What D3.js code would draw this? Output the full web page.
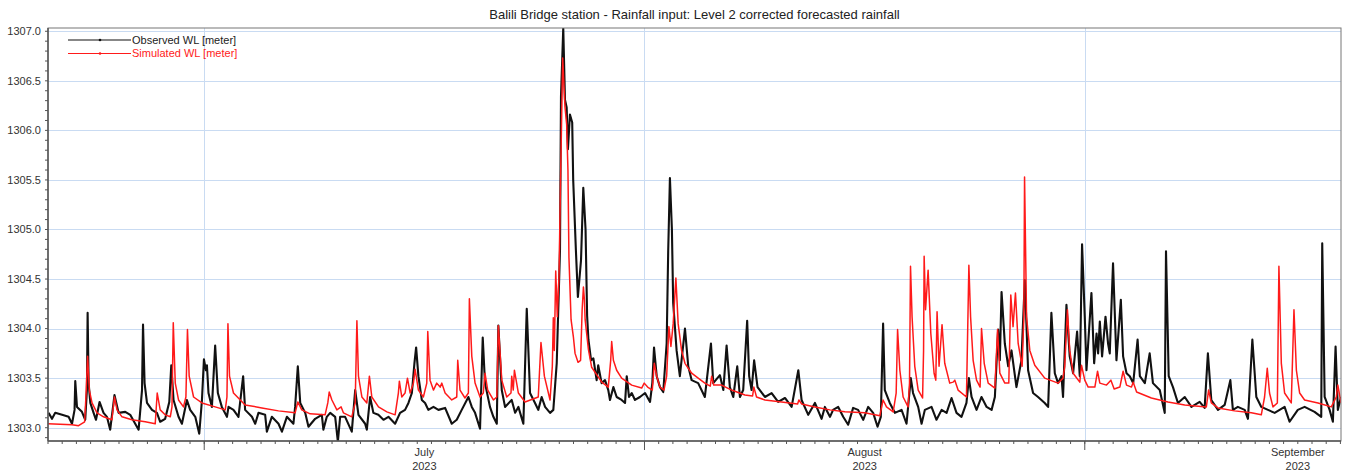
<!DOCTYPE html>
<html>
<head>
<meta charset="utf-8">
<script src="https://cdn.jsdelivr.net/npm/d3@7"></script>
<style>
  body { margin: 0; background: #fff; }
  svg { display: block; font-family: "Liberation Sans", Arial, sans-serif; }
</style>
</head>
<body>
<svg id="chart" width="1346" height="475"></svg>
<script>
// ---- chart text ----
const chartTitle = "Balili Bridge station - Rainfall input: Level 2 corrected forecasted rainfall";
const seriesNames = ["Observed WL [meter]", "Simulated WL [meter]"];

// ---- time frame (series times are days after periodStart) ----
const periodStart = "2023-06-20T00:00:00Z";
const periodEnd = "2023-09-19T01:00:00Z";
const monthStarts = ["2023-07-01", "2023-08-01", "2023-09-01"];
const monthLabels = ["July", "August", "September"];
const yearLabels = ["2023", "2023", "2023"];

// ---- water level axis ----
const levelRange = [1302.866, 1307.033];
const levelTicks = [1303.0, 1303.5, 1304.0, 1304.5, 1305.0, 1305.5, 1306.0, 1306.5, 1307.0];

// ---- observed water level [day, m] ----
const observed = [
  [0.04,1303.15],[0.28,1303.09],[0.51,1303.15],[0.99,1303.13],[1.45,1303.11],[1.69,1303.04],[1.87,1303.18],
  [1.92,1303.47],[2.04,1303.21],[2.39,1303.16],[2.62,1303.08],[2.74,1303.38],[2.79,1304.16],[2.86,1303.45],
  [2.98,1303.25],[3.21,1303.15],[3.38,1303.08],[3.63,1303.26],[3.91,1303.15],[4.15,1303.11],[4.38,1302.98],
  [4.68,1303.33],[4.97,1303.15],[5.44,1303.16],[5.79,1303.13],[6.14,1303.04],[6.38,1302.98],[6.62,1303.38],
  [6.69,1304.04],[6.80,1303.45],[6.97,1303.25],[7.32,1303.18],[7.67,1303.15],[7.90,1303.06],[8.25,1303.09],
  [8.54,1303.26],[8.68,1303.63],[8.84,1303.28],[9.19,1303.11],[9.43,1303.04],[9.78,1303.28],[10.01,1303.18],
  [10.37,1303.11],[10.65,1302.94],[10.84,1303.28],[10.98,1303.69],[11.12,1303.58],[11.19,1303.63],[11.30,1303.35],
  [11.54,1303.21],[11.77,1303.83],[11.96,1303.35],[12.24,1303.21],[12.60,1303.11],[12.71,1303.21],[13.06,1303.18],
  [13.41,1303.11],[13.74,1303.52],[13.88,1303.18],[14.36,1303.11],[14.59,1303.04],[14.82,1303.15],[15.29,1303.13],
  [15.41,1302.96],[15.76,1303.11],[16.23,1303.04],[16.47,1302.96],[16.82,1303.11],[17.28,1303.04],[17.40,1303.21],
  [17.59,1303.62],[17.76,1303.25],[18.11,1303.15],[18.34,1303.01],[18.81,1303.09],[19.28,1303.13],[19.39,1302.98],
  [19.63,1303.11],[19.87,1303.15],[20.22,1303.11],[20.41,1302.86],[20.57,1303.11],[20.92,1303.11],[21.39,1302.96],
  [21.63,1303.38],[21.86,1303.13],[22.33,1303.04],[22.45,1302.98],[22.68,1303.31],[22.91,1303.15],[23.26,1303.13],
  [23.62,1303.08],[23.97,1303.11],[24.44,1303.04],[24.79,1303.15],[25.14,1303.18],[25.38,1303.25],[25.62,1303.35],
  [25.80,1303.65],[25.92,1303.81],[26.08,1303.52],[26.32,1303.28],[26.55,1303.25],[26.78,1303.18],[27.14,1303.21],
  [27.49,1303.18],[27.96,1303.20],[28.43,1303.04],[28.78,1303.08],[29.13,1303.18],[29.60,1303.31],[29.84,1303.21],
  [30.07,1303.15],[30.42,1302.99],[30.61,1303.91],[30.77,1303.45],[31.12,1303.21],[31.36,1303.11],[31.60,1303.04],
  [31.71,1304.03],[31.95,1303.38],[32.18,1303.21],[32.65,1303.28],[32.89,1303.15],[33.12,1303.21],[33.47,1303.04],
  [33.71,1304.20],[33.94,1303.35],[34.29,1303.25],[34.52,1303.18],[34.76,1303.31],[35.00,1303.21],[35.35,1303.15],
  [35.58,1303.18],[35.82,1303.65],[36.05,1304.79],[36.12,1306.34],[36.28,1307.03],[36.40,1306.31],[36.52,1306.23],
  [36.61,1305.81],[36.75,1306.16],[36.91,1306.08],[36.98,1305.50],[37.17,1304.79],[37.31,1304.32],[37.53,1304.69],
  [37.69,1305.42],[37.85,1305.00],[37.96,1304.13],[38.05,1303.89],[38.24,1303.68],[38.40,1303.70],[38.63,1303.48],
  [38.74,1303.63],[38.98,1303.45],[39.22,1303.48],[39.45,1303.38],[39.57,1303.28],[39.81,1303.41],[40.04,1303.31],
  [40.39,1303.28],[40.63,1303.25],[40.75,1303.52],[40.91,1303.31],[41.10,1303.35],[41.33,1303.28],[41.68,1303.31],
  [42.04,1303.35],[42.39,1303.26],[42.55,1303.45],[42.67,1303.81],[42.86,1303.52],[43.09,1303.41],[43.32,1303.36],
  [43.56,1303.85],[43.67,1304.79],[43.79,1305.52],[43.93,1305.00],[44.02,1304.26],[44.26,1303.78],[44.49,1303.52],
  [44.85,1304.00],[45.08,1303.62],[45.32,1303.48],[45.78,1303.45],[46.25,1303.31],[46.68,1303.85],[46.84,1303.45],
  [47.31,1303.53],[47.55,1303.38],[47.78,1303.83],[48.01,1303.41],[48.25,1303.31],[48.53,1303.62],[48.72,1303.31],
  [48.95,1303.38],[49.23,1304.08],[49.37,1303.52],[49.54,1303.38],[49.72,1303.68],[49.96,1303.41],[50.48,1303.31],
  [50.95,1303.35],[51.41,1303.26],[51.89,1303.30],[52.36,1303.21],[52.83,1303.58],[53.06,1303.28],[53.53,1303.13],
  [54.00,1303.25],[54.47,1303.09],[54.70,1303.21],[55.06,1303.11],[55.28,1303.18],[55.64,1303.21],[55.99,1303.11],
  [56.34,1303.03],[56.69,1303.20],[57.04,1303.18],[57.40,1303.08],[57.75,1303.21],[58.10,1303.15],[58.41,1303.01],
  [58.64,1303.11],[58.80,1304.05],[58.92,1303.38],[59.27,1303.25],[59.63,1303.15],[60.10,1303.18],[60.45,1303.04],
  [60.75,1303.50],[60.91,1303.35],[61.27,1303.21],[61.51,1303.04],[61.74,1303.18],[62.21,1303.21],[62.56,1303.08],
  [62.92,1303.18],[63.27,1303.15],[63.62,1303.30],[63.97,1303.15],[64.32,1303.11],[64.67,1303.25],[64.84,1303.50],
  [65.03,1303.31],[65.38,1303.18],[65.73,1303.31],[66.09,1303.21],[66.44,1303.18],[66.67,1303.31],[66.90,1303.99],
  [67.02,1303.68],[67.14,1304.37],[67.37,1303.85],[67.61,1303.62],[67.84,1303.78],[68.19,1303.41],[68.54,1303.68],
  [68.78,1304.49],[69.01,1303.58],[69.36,1303.35],[69.71,1303.31],[70.18,1303.25],[70.42,1303.21],[70.65,1304.16],
  [70.89,1303.55],[71.12,1303.45],[71.36,1303.52],[71.47,1303.31],[71.71,1304.24],[71.94,1303.72],[72.18,1303.55],
  [72.46,1303.97],[72.65,1303.52],[72.81,1304.85],[73.00,1304.12],[73.12,1303.58],[73.47,1304.36],[73.66,1303.65],
  [73.83,1303.95],[73.94,1303.75],[74.06,1304.07],[74.22,1303.72],[74.46,1304.12],[74.64,1303.85],[74.76,1303.75],
  [74.99,1304.66],[75.23,1303.68],[75.54,1304.29],[75.70,1303.72],[75.94,1303.55],[76.17,1303.52],[76.41,1303.45],
  [76.72,1303.89],[76.88,1303.52],[77.23,1303.45],[77.57,1303.75],[77.80,1303.45],[78.28,1303.38],[78.63,1303.15],
  [78.72,1304.78],[78.91,1303.52],[79.21,1303.41],[79.56,1303.25],[80.04,1303.31],[80.51,1303.21],[81.09,1303.26],
  [81.44,1303.20],[81.67,1303.75],[81.91,1303.28],[82.38,1303.18],[82.85,1303.23],[83.25,1303.48],[83.43,1303.18],
  [83.78,1303.21],[84.26,1303.18],[84.49,1303.09],[84.80,1303.89],[85.08,1303.31],[85.43,1303.21],[85.90,1303.18],
  [86.37,1303.15],[87.07,1303.21],[87.42,1303.06],[88.00,1303.18],[88.48,1303.21],[89.18,1303.16],[89.65,1303.11],
  [89.72,1304.86],[89.89,1303.31],[90.24,1303.18],[90.47,1303.06],[90.66,1303.82],[90.82,1303.18],[91.04,1303.31]
];

// ---- simulated water level [day, m] ----
const simulated = [
  [0.00,1303.04],[1.69,1303.03],[2.15,1303.02],[2.58,1303.06],[2.67,1303.31],[2.79,1303.72],[2.91,1303.38],
  [3.10,1303.25],[3.45,1303.15],[3.91,1303.11],[4.50,1303.08],[4.68,1303.31],[4.86,1303.18],[5.21,1303.11],
  [5.91,1303.08],[6.85,1303.06],[7.55,1303.04],[7.69,1303.35],[7.90,1303.18],[8.25,1303.13],[8.61,1303.11],
  [8.73,1303.21],[8.82,1304.06],[8.96,1303.45],[9.19,1303.28],[9.54,1303.21],[9.71,1303.31],[9.82,1303.99],
  [9.94,1303.52],[10.25,1303.31],[10.84,1303.25],[11.77,1303.21],[12.48,1303.18],[12.60,1303.31],[12.67,1304.05],
  [12.78,1303.52],[13.06,1303.35],[13.88,1303.23],[15.06,1303.20],[16.23,1303.17],[17.40,1303.15],[17.59,1303.26],
  [17.87,1303.18],[18.46,1303.14],[19.51,1303.13],[19.70,1303.25],[19.80,1303.36],[19.99,1303.28],[20.34,1303.18],
  [20.64,1303.21],[20.80,1303.15],[21.39,1303.11],[21.63,1303.25],[21.75,1304.08],[21.86,1303.52],[22.10,1303.31],
  [22.45,1303.25],[22.63,1303.52],[22.80,1303.31],[23.27,1303.21],[23.86,1303.16],[24.44,1303.13],[24.67,1303.35],
  [24.74,1303.47],[24.91,1303.31],[25.14,1303.35],[25.31,1303.50],[25.50,1303.35],[25.73,1303.45],[25.85,1303.59],
  [26.08,1303.38],[26.43,1303.31],[26.67,1303.45],[26.74,1303.97],[26.90,1303.48],[27.14,1303.38],[27.37,1303.45],
  [27.61,1303.41],[27.73,1303.45],[27.96,1303.35],[28.43,1303.28],[28.78,1303.31],[28.85,1303.68],[29.01,1303.38],
  [29.36,1303.30],[29.60,1303.35],[29.67,1304.30],[29.84,1303.72],[30.07,1303.45],[30.42,1303.31],[30.65,1303.35],
  [30.77,1303.55],[30.96,1303.38],[31.36,1303.28],[31.60,1303.31],[31.71,1304.03],[31.95,1303.48],[32.30,1303.31],
  [32.60,1303.35],[32.65,1303.52],[32.76,1303.38],[32.84,1303.58],[33.12,1303.35],[33.59,1303.26],[34.52,1303.31],
  [34.71,1303.86],[34.95,1303.52],[35.35,1303.28],[35.51,1303.62],[35.58,1304.11],[35.65,1303.78],[35.75,1304.58],
  [35.86,1304.12],[35.98,1304.53],[36.09,1305.50],[36.24,1306.73],[36.40,1306.24],[36.52,1306.06],[36.61,1305.60],
  [36.68,1304.72],[36.83,1304.09],[36.99,1303.92],[37.11,1303.75],[37.32,1303.66],[37.50,1303.68],[37.61,1304.19],
  [37.70,1304.42],[37.77,1304.29],[37.82,1304.09],[38.05,1303.79],[38.28,1303.61],[38.75,1303.51],[38.99,1303.46],
  [39.45,1303.41],[39.62,1303.68],[39.69,1303.87],[39.81,1303.68],[40.04,1303.58],[40.39,1303.50],[41.10,1303.43],
  [41.80,1303.40],[41.98,1303.45],[42.22,1303.41],[42.55,1303.38],[42.69,1303.65],[42.86,1303.52],[43.09,1303.41],
  [43.37,1303.38],[43.56,1303.52],[43.72,1304.02],[43.86,1303.82],[44.02,1304.05],[44.21,1304.51],[44.37,1304.05],
  [44.61,1303.78],[44.85,1303.65],[45.32,1303.55],[45.78,1303.50],[46.25,1303.45],[46.63,1303.42],[46.73,1303.52],
  [46.87,1303.43],[47.43,1303.43],[48.13,1303.38],[49.07,1303.33],[49.61,1303.32],[49.70,1303.41],[49.89,1303.31],
  [50.48,1303.28],[51.65,1303.26],[52.78,1303.24],[52.87,1303.28],[53.06,1303.24],[54.00,1303.21],[55.05,1303.18],
  [56.11,1303.16],[57.51,1303.15],[58.57,1303.12],[58.80,1303.28],[59.04,1303.21],[59.51,1303.16],[59.72,1303.35],
  [59.82,1303.99],[59.98,1303.58],[60.21,1303.31],[60.56,1303.21],[60.66,1303.45],[60.73,1304.63],[60.84,1304.12],
  [61.03,1303.62],[61.27,1303.38],[61.58,1303.30],[61.65,1303.78],[61.69,1304.73],[61.79,1304.19],[61.97,1304.59],
  [62.16,1303.95],[62.39,1303.55],[62.51,1303.48],[62.60,1304.17],[62.74,1303.62],[62.95,1304.04],[63.14,1303.65],
  [63.49,1303.45],[63.73,1303.46],[63.85,1303.48],[64.08,1303.38],[64.67,1303.31],[64.84,1304.64],[64.96,1304.12],
  [65.14,1303.68],[65.38,1303.48],[65.63,1303.41],[65.73,1304.00],[65.92,1303.65],[66.20,1303.45],[66.67,1303.40],
  [66.86,1303.99],[67.02,1303.55],[67.37,1303.45],[67.65,1303.45],[67.79,1304.34],[67.95,1304.02],[68.12,1304.36],
  [68.31,1303.85],[68.59,1303.62],[68.71,1304.12],[68.76,1305.53],[68.90,1304.12],[69.13,1303.78],[69.48,1303.63],
  [70.18,1303.50],[71.12,1303.45],[71.47,1303.50],[71.59,1303.62],[71.78,1304.19],[71.94,1303.78],[72.18,1303.55],
  [72.65,1303.46],[72.77,1303.63],[73.00,1303.48],[73.24,1303.41],[73.71,1303.41],[73.90,1303.57],[74.06,1303.45],
  [74.53,1303.43],[74.84,1303.48],[75.07,1303.39],[75.47,1303.41],[75.70,1303.57],[75.94,1303.43],[76.29,1303.41],
  [76.41,1303.46],[76.65,1303.36],[77.69,1303.30],[78.86,1303.26],[80.04,1303.23],[81.56,1303.21],[81.72,1303.38],
  [81.91,1303.25],[82.38,1303.20],[83.55,1303.17],[84.73,1303.15],[85.43,1303.13],[85.66,1303.31],[85.85,1303.60],
  [86.01,1303.35],[86.25,1303.21],[86.56,1303.25],[86.67,1304.63],[86.84,1303.65],[87.07,1303.35],[87.54,1303.25],
  [87.73,1304.19],[87.90,1303.58],[88.13,1303.35],[88.48,1303.28],[89.42,1303.25],[90.36,1303.21],[90.71,1303.31],
  [90.82,1303.43],[91.04,1303.25]
];

// ---- drawing ----
const svg = d3.select("#chart");
const W = 1346, H = 475;
const plot = { left: 48, right: 1341, top: 28, bottom: 441 };

const t0 = new Date(periodStart);
const toDate = d => new Date(t0.getTime() + d * 864e5);

const x = d3.scaleUtc()
  .domain([t0, new Date(periodEnd)])
  .range([plot.left, plot.right]);
const y = d3.scaleLinear()
  .domain(levelRange)
  .range([plot.bottom, plot.top]);

const gridColor = "#c9dbf2";
const axisColor = "#555";
const textColor = "#333";

svg.append("rect").attr("width", W).attr("height", H).attr("fill", "#fff");

// title
svg.append("text")
  .attr("x", (plot.left + plot.right) / 2)
  .attr("y", 19)
  .attr("text-anchor", "middle")
  .attr("font-size", 13)
  .attr("fill", "#222")
  .text(chartTitle);

// grid
const grid = svg.append("g");
grid.selectAll("line.h").data(levelTicks).join("line")
  .attr("x1", plot.left).attr("x2", plot.right)
  .attr("y1", d => Math.round(y(d)) + 0.5).attr("y2", d => Math.round(y(d)) + 0.5)
  .attr("stroke", gridColor).attr("stroke-width", 1);
const monthDates = monthStarts.map(s => new Date(s + "T00:00:00Z"));
grid.selectAll("line.v").data(monthDates).join("line")
  .attr("x1", d => Math.round(x(d)) + 0.5).attr("x2", d => Math.round(x(d)) + 0.5)
  .attr("y1", plot.top).attr("y2", plot.bottom)
  .attr("stroke", gridColor).attr("stroke-width", 1);

// clip for series
svg.append("defs").append("clipPath").attr("id", "plotClip")
  .append("rect")
  .attr("x", plot.left).attr("y", plot.top)
  .attr("width", plot.right - plot.left).attr("height", plot.bottom - plot.top);

const line = d3.line()
  .x(d => x(toDate(d[0])))
  .y(d => y(d[1]));

const series = svg.append("g").attr("clip-path", "url(#plotClip)");
series.append("path")
  .datum(observed)
  .attr("d", line)
  .attr("fill", "none")
  .attr("stroke", "#111")
  .attr("stroke-width", 2.1)
  .attr("stroke-linejoin", "round");
series.append("path")
  .datum(simulated)
  .attr("d", line)
  .attr("fill", "none")
  .attr("stroke", "#ff1a1a")
  .attr("stroke-width", 1.5)
  .attr("stroke-linejoin", "round");

// frame
svg.append("rect")
  .attr("x", plot.left).attr("y", plot.top)
  .attr("width", plot.right - plot.left).attr("height", plot.bottom - plot.top)
  .attr("fill", "none").attr("stroke", "#777").attr("stroke-width", 1);

// y axis
const yMinor = d3.range(Math.ceil(levelRange[0] * 10), Math.floor(levelRange[1] * 10) + 1).map(v => v / 10);
const yAxis = svg.append("g").attr("transform", `translate(${plot.left},0)`);
yAxis.append("line")
  .attr("y1", plot.top).attr("y2", plot.bottom)
  .attr("stroke", axisColor).attr("stroke-width", 1.5);
yAxis.selectAll("line.minor").data(yMinor).join("line")
  .attr("x1", -3).attr("x2", 0)
  .attr("y1", d => y(d)).attr("y2", d => y(d))
  .attr("stroke", axisColor).attr("stroke-width", 1);
yAxis.selectAll("text").data(levelTicks).join("text")
  .attr("x", -7)
  .attr("y", d => y(d))
  .attr("dy", "0.35em")
  .attr("text-anchor", "end")
  .attr("font-size", 11)
  .attr("fill", textColor)
  .text(d => d3.format(".1f")(d));

// x axis
const xAxis = svg.append("g").attr("transform", `translate(0,${plot.bottom})`);
xAxis.append("line")
  .attr("x1", plot.left).attr("x2", plot.right)
  .attr("stroke", axisColor).attr("stroke-width", 1.5);
const days = d3.utcDay.range(t0, new Date(periodEnd));
xAxis.selectAll("line.day").data(days).join("line")
  .attr("x1", d => x(d)).attr("x2", d => x(d))
  .attr("y1", 0).attr("y2", 3)
  .attr("stroke", axisColor).attr("stroke-width", 1);
xAxis.selectAll("line.month").data(monthDates).join("line")
  .attr("x1", d => x(d)).attr("x2", d => x(d))
  .attr("y1", 0).attr("y2", 9)
  .attr("stroke", axisColor).attr("stroke-width", 1);
const monthMid = monthDates.map(d => new Date((d.getTime() + d3.utcMonth.offset(d, 1).getTime()) / 2));
const mLabels = xAxis.selectAll("g.mlabel").data(monthMid).join("g")
  .attr("transform", d => `translate(${x(d)},0)`);
mLabels.append("text")
  .attr("y", 15).attr("text-anchor", "middle")
  .attr("font-size", 11).attr("fill", textColor)
  .text((d, i) => monthLabels[i]);
mLabels.append("text")
  .attr("y", 29).attr("text-anchor", "middle")
  .attr("font-size", 11).attr("fill", textColor)
  .text((d, i) => yearLabels[i]);

// legend
const legendColors = ["#111", "#ff1a1a"];
const legend = svg.append("g");
seriesNames.forEach((name, i) => {
  const ly = 40 + i * 13.5;
  legend.append("line")
    .attr("x1", 68).attr("x2", 131).attr("y1", ly).attr("y2", ly)
    .attr("stroke", legendColors[i]).attr("stroke-width", 1.2);
  legend.append("circle")
    .attr("cx", 100).attr("cy", ly).attr("r", 1.3)
    .attr("fill", legendColors[i]);
  legend.append("text")
    .attr("x", 132).attr("y", ly).attr("dy", "0.35em")
    .attr("font-size", 11)
    .attr("fill", i === 0 ? "#222" : "#ff1a1a")
    .text(name);
});
</script>
</body>
</html>
